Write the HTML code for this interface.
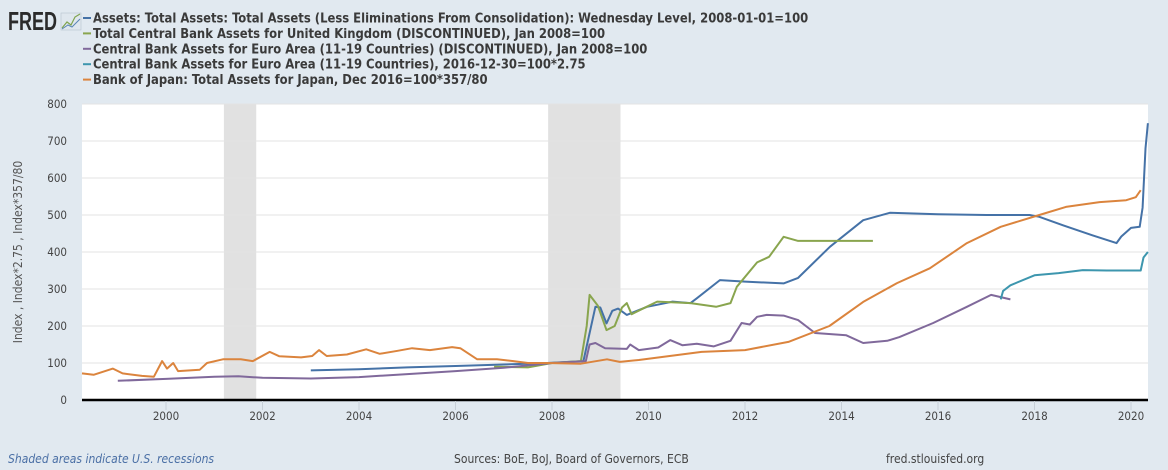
<!DOCTYPE html>
<html><head><meta charset="utf-8"><style>
html,body{margin:0;padding:0;background:#e1e9f0;}
svg{display:block;font-family:"DejaVu Sans Condensed","DejaVu Sans","Liberation Sans",sans-serif;}
</style></head><body>
<svg id="chart" width="1168" height="470">
<rect x="0" y="0" width="1168" height="470" fill="#e1e9f0"/>
<g>
<text x="8" y="30" font-family="Liberation Sans,sans-serif" font-weight="bold" font-size="26" fill="#2b2b2b" textLength="49" lengthAdjust="spacingAndGlyphs">FRED</text>
<rect x="61" y="13" width="20" height="17" fill="#dfe7ee" stroke="#b8c4cf" stroke-width="0.6"/>
<polyline points="62,28 67,22 71,25 75,17 80,14" fill="none" stroke="#7fa34e" stroke-width="1.2"/>
<polyline points="62,29 68,25 72,27 80,19" fill="none" stroke="#5a86b5" stroke-width="1"/>
</g>
<g id="legend"></g>
<rect x="82" y="104" width="1066" height="296" fill="#ffffff"/>
<g id="recessions"></g>
<g id="grid"></g>
<g id="series"></g>
<line x1="82" y1="400" x2="1148" y2="400" stroke="#000" stroke-width="2.5"/>
<g id="xticks"></g>
<text transform="translate(22,252) rotate(-90)" text-anchor="middle" font-size="12" fill="#555">Index , Index*2.75 , Index*357/80</text>
<text x="8" y="463" font-size="12" font-style="italic" fill="#4a6fa5">Shaded areas indicate U.S. recessions</text>
<text x="454" y="463" font-size="12" fill="#444">Sources: BoE, BoJ, Board of Governors, ECB</text>
<text x="886" y="463" font-size="12" fill="#444">fred.stlouisfed.org</text>
</svg>
<script>
const yTicks=[0,100,200,300,400,500,600,700,800];
const xTicks=[2000,2002,2004,2006,2008,2010,2012,2014,2016,2018,2020];
const recessionStarts=[2001.2,2007.92];
const recessionEnds=[2001.87,2009.42];
const seriesNames=["Assets: Total Assets: Total Assets (Less Eliminations From Consolidation): Wednesday Level, 2008-01-01=100","Total Central Bank Assets for United Kingdom (DISCONTINUED), Jan 2008=100","Central Bank Assets for Euro Area (11-19 Countries) (DISCONTINUED), Jan 2008=100","Central Bank Assets for Euro Area (11-19 Countries), 2016-12-30=100*2.75","Bank of Japan: Total Assets for Japan, Dec 2016=100*357/80"];
const seriesColors=["#4572a7","#89a54e","#80699b","#3d96ae","#db843d"];
const fedYears=[2003.0,2004,2005,2006,2007,2007.9,2008.5,2008.65,2008.9,2009.0,2009.13,2009.25,2009.37,2009.55,2009.97,2010.5,2010.87,2011.0,2011.48,2012.0,2012.8,2013.1,2013.76,2014.45,2015.0,2016,2017,2017.9,2018.1,2018.6,2019.2,2019.7,2019.8,2020.0,2020.18,2020.24,2020.3,2020.35];
const fedValues=[80,83,88,92,96,100,104,105,252,250,207,241,247,230,252,266,262,275,324,320,315,330,414,486,506,502,500,500,495,472,445,424,442,465,468,520,680,748];
const ukYears=[2006.8,2007.5,2008.0,2008.6,2008.72,2008.78,2008.95,2009.13,2009.3,2009.45,2009.55,2009.65,2009.9,2010.18,2010.87,2011.4,2011.7,2011.83,2012.25,2012.5,2012.8,2013.1,2013.5,2014.65];
const ukValues=[90,88,100,105,200,284,255,189,200,250,262,232,248,266,262,252,262,306,372,387,441,430,430,430];
const euOldYears=[1999,2000,2001,2001.5,2002,2003,2004,2005,2006,2007,2008,2008.7,2008.78,2008.9,2009.1,2009.55,2009.62,2009.8,2010.2,2010.45,2010.7,2011.0,2011.35,2011.7,2011.93,2012.1,2012.25,2012.45,2012.8,2013.1,2013.45,2014.1,2014.45,2014.95,2015.2,2015.9,2016.6,2017.1,2017.5];
const euOldValues=[52,57,63,64,60,58,62,70,78,87,100,105,150,154,140,138,150,135,142,162,148,152,145,160,208,204,225,230,228,216,181,175,154,160,170,208,252,284,272];
const euNewYears=[2017.3,2017.35,2017.5,2018.0,2018.5,2019.0,2019.5,2020.0,2020.2,2020.26,2020.35];
const euNewValues=[272,295,310,337,343,351,350,350,350,385,400];
const jpYears=[1998.26,1998.5,1998.9,1999.1,1999.5,1999.75,1999.92,2000.02,2000.15,2000.25,2000.7,2000.85,2001.18,2001.55,2001.8,2002.15,2002.35,2002.8,2003.03,2003.17,2003.33,2003.75,2004.15,2004.43,2004.8,2005.1,2005.47,2005.93,2006.1,2006.45,2006.86,2007.2,2007.5,2007.9,2008.6,2009.14,2009.4,2009.8,2011.1,2012.0,2012.9,2013.75,2014.45,2015.15,2015.83,2016.6,2017.3,2018.1,2018.65,2019.35,2019.9,2020.1,2020.2];
const jpValues=[72,68,85,72,65,63,105,85,100,78,82,100,110,110,105,130,118,115,119,135,119,123,137,125,133,140,135,143,140,110,110,105,100,100,98,110,103,108,130,135,157,200,265,316,356,424,468,500,522,535,540,548,567];
const allYears=[fedYears,ukYears,euOldYears,euNewYears,jpYears];
const allValues=[fedValues,ukValues,euOldValues,euNewValues,jpValues];
const NS="http://www.w3.org/2000/svg";
const X0=82,X1=1148,Y0=400,Y1=104;
function xs(yr){return 166+(yr-2000)*48.25;}
function ys(v){return Y0-(v/800)*(Y0-Y1);}
function mk(tag,attrs,parent){const e=document.createElementNS(NS,tag);for(const k in attrs)e.setAttribute(k,attrs[k]);parent.appendChild(e);return e;}
const rec=document.getElementById('recessions');
recessionStarts.forEach((s,i)=>{const r=mk('rect',{x:xs(s),y:Y1,width:xs(recessionEnds[i])-xs(s),height:Y0-Y1,fill:'#e1e1e1'},rec);

});
const grid=document.getElementById('grid');
yTicks.forEach(t=>{if(t>0){const l=mk('line',{x1:X0,x2:X1,y1:ys(t),y2:ys(t),stroke:'#e3e3e3','stroke-width':1},grid);

}
const tx=mk('text',{x:67,y:ys(t)+4,'text-anchor':'end','font-size':11.5,fill:'#444'},grid);tx.textContent=t;

});
const xt=document.getElementById('xticks');
xTicks.forEach(t=>{const l=mk('line',{x1:xs(t),x2:xs(t),y1:401,y2:410,stroke:'#c8d0d8','stroke-width':1},xt);


const tx=mk('text',{x:xs(t),y:420,'text-anchor':'middle','font-size':11.5,fill:'#444'},xt);tx.textContent=t;

});
const sg=document.getElementById('series');
allYears.forEach((yrs,i)=>{const pts=yrs.map((y,j)=>xs(y).toFixed(1)+','+ys(allValues[i][j]).toFixed(1)).join(' ');
const p=mk('polyline',{points:pts,fill:'none',stroke:seriesColors[i],'stroke-width':2,'stroke-linejoin':'round'},sg);

});
const lg=document.getElementById('legend');
seriesNames.forEach((n,i)=>{const y=18+i*15.4;
const l=mk('line',{x1:83,x2:91,y1:y,y2:y,stroke:seriesColors[i],'stroke-width':2},lg);


const t=mk('text',{x:93,y:y+4.5,'font-size':12.9,'font-weight':'bold',fill:'#3a3a3a'},lg);t.textContent=n;

});
</script>
</body></html>
